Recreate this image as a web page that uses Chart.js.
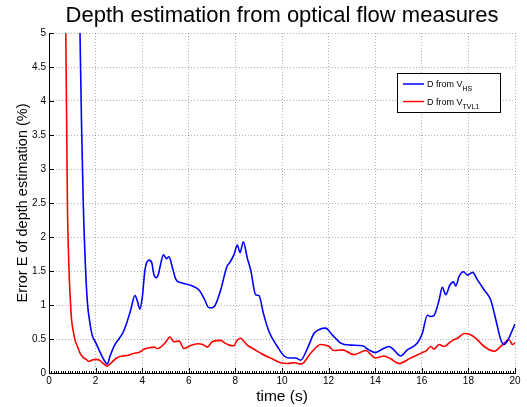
<!DOCTYPE html>
<html lang="en">
<head>
<meta charset="UTF-8">
<title>Depth estimation from optical flow measures</title>
<script src="https://cdn.jsdelivr.net/npm/chart.js"></script>
<style>
    html, body { margin: 0; padding: 0; background: #fff; }
    .caixa { position: relative; width: 527px; height: 407px; }
</style>
</head>
<body>
<div class="caixa"><canvas id="grafico"></canvas></div>
<script>
    // values (time in s, error in %)
    var tempo_hs = [1.25, 1.33, 1.40, 1.47, 1.56, 1.65, 1.75, 1.86, 2.0, 2.2, 2.38, 2.5, 2.62, 2.8, 3.0, 3.15, 3.3, 3.5, 3.69, 3.8, 3.9, 4.0, 4.12, 4.29, 4.41, 4.5, 4.61, 4.7, 4.79, 4.91, 5.04, 5.15, 5.29, 5.44, 5.65, 6.08, 6.44, 6.65, 6.87, 7.01, 7.15, 7.37, 7.63, 7.77, 7.94, 8.08, 8.2, 8.34, 8.51, 8.66, 8.87, 9.01, 9.2, 9.44, 9.8, 10.09, 10.35, 10.59, 10.8, 11.09, 11.37, 11.6, 11.87, 12.16, 12.52, 12.95, 13.45, 13.73, 14.01, 14.3, 14.59, 14.8, 15.09, 15.38, 15.81, 16.02, 16.24, 16.38, 16.53, 16.74, 16.88, 17.03, 17.2, 17.36, 17.46, 17.6, 17.79, 17.96, 18.18, 18.39, 18.68, 18.96, 19.18, 19.39, 19.53, 19.7, 20.0];
    var erro_hs = [6.5, 5.0, 3.6, 2.5, 1.6, 1.03, 0.75, 0.55, 0.45, 0.3, 0.18, 0.13, 0.25, 0.4, 0.5, 0.58, 0.7, 0.92, 1.14, 1.05, 0.94, 1.1, 1.52, 1.66, 1.62, 1.45, 1.40, 1.46, 1.6, 1.74, 1.68, 1.71, 1.56, 1.38, 1.33, 1.29, 1.22, 1.10, 0.96, 0.96, 1.01, 1.22, 1.56, 1.63, 1.74, 1.88, 1.77, 1.93, 1.69, 1.51, 1.15, 1.14, 0.88, 0.61, 0.39, 0.25, 0.22, 0.22, 0.19, 0.36, 0.58, 0.64, 0.66, 0.56, 0.44, 0.41, 0.40, 0.34, 0.30, 0.35, 0.39, 0.34, 0.25, 0.34, 0.44, 0.58, 0.85, 0.83, 0.85, 1.07, 1.26, 1.15, 1.29, 1.34, 1.28, 1.42, 1.49, 1.44, 1.48, 1.37, 1.22, 1.07, 0.78, 0.49, 0.42, 0.49, 0.72];

    var tempo_tvl = [0.6, 0.72, 0.79, 0.85, 0.92, 0.97, 1.05, 1.12, 1.22, 1.35, 1.5, 1.6, 1.7, 1.85, 2.0, 2.15, 2.3, 2.5, 2.7, 2.9, 3.15, 3.4, 3.65, 3.85, 4.08, 4.3, 4.51, 4.65, 4.79, 5.0, 5.19, 5.36, 5.58, 5.79, 6.05, 6.37, 6.6, 6.8, 7.0, 7.37, 7.55, 7.73, 7.94, 8.05, 8.23, 8.35, 8.51, 8.8, 9.09, 9.37, 9.51, 9.94, 10.25, 10.52, 10.83, 11.23, 11.66, 12.02, 12.23, 12.6, 13.09, 13.59, 14.01, 14.37, 14.66, 15.02, 15.52, 16.02, 16.2, 16.38, 16.53, 16.74, 16.95, 17.17, 17.32, 17.53, 17.82, 18.11, 18.32, 18.68, 19.11, 19.39, 19.75, 19.89, 20.0];
    var erro_tvl = [6.5, 5.0, 2.5, 1.6, 1.05, 0.78, 0.6, 0.48, 0.39, 0.28, 0.22, 0.2, 0.17, 0.19, 0.2, 0.19, 0.15, 0.10, 0.16, 0.22, 0.25, 0.26, 0.29, 0.3, 0.35, 0.37, 0.38, 0.36, 0.38, 0.45, 0.53, 0.46, 0.47, 0.36, 0.40, 0.43, 0.42, 0.38, 0.46, 0.48, 0.44, 0.41, 0.40, 0.47, 0.51, 0.47, 0.41, 0.35, 0.29, 0.24, 0.22, 0.15, 0.14, 0.15, 0.13, 0.29, 0.42, 0.39, 0.33, 0.34, 0.27, 0.33, 0.22, 0.25, 0.21, 0.14, 0.22, 0.30, 0.33, 0.39, 0.35, 0.42, 0.39, 0.44, 0.48, 0.51, 0.58, 0.56, 0.51, 0.39, 0.32, 0.39, 0.49, 0.42, 0.44];

    var titulo = 'Depth estimation from optical flow measures';
    var nome_series = ['D from V', 'D from V'];
    var sub_series = ['HS', 'TVL1'];
    var cor_series = ['#0000ff', '#ff0000'];
    var ticks_x = [0, 2, 4, 6, 8, 10, 12, 14, 16, 18, 20];
    var ticks_y = [0, 0.5, 1, 1.5, 2, 2.5, 3, 3.5, 4, 4.5, 5];

    function pontos(xs, ys) {
        return xs.map(function (x, i) { return { x: x, y: ys[i] }; });
    }

    var fonte = '"Liberation Sans", Arial, Helvetica, sans-serif';

    // ticks inside the axes, title over the plot area, legend with subscripts
    var extras = {
        id: 'extras',
        afterDraw: function (chart) {
            var ctx = chart.ctx, a = chart.chartArea;
            var sx = chart.scales.x, sy = chart.scales.y;
            ctx.save();
            ctx.strokeStyle = '#000';
            ctx.lineWidth = 1;
            ctx.beginPath();
            for (var k = 0; k <= 200; k++) {
                var px = Math.round(sx.getPixelForValue(k / 10)) + 0.5;
                var len = (k % 20 === 0) ? 5 : 2;
                ctx.moveTo(px, a.bottom);
                ctx.lineTo(px, a.bottom - len);
            }
            ticks_y.forEach(function (v) {
                var py = Math.round(sy.getPixelForValue(v)) + 0.5;
                ctx.moveTo(a.left, py);
                ctx.lineTo(a.left + 5, py);
            });
            ctx.stroke();

            ctx.fillStyle = '#000';
            ctx.font = '22px ' + fonte;
            ctx.textAlign = 'center';
            ctx.textBaseline = 'alphabetic';
            ctx.fillText(titulo, (a.left + a.right) / 2, 22);

            // legend box
            ctx.fillStyle = '#fff';
            ctx.fillRect(397.5, 73.5, 103, 39);
            ctx.strokeStyle = '#000';
            ctx.strokeRect(397.5, 73.5, 103, 39);
            ctx.textAlign = 'left';
            for (var i = 0; i < nome_series.length; i++) {
                var yl = 84 + i * 17.5;
                ctx.strokeStyle = cor_series[i];
                ctx.lineWidth = 1.5;
                ctx.beginPath();
                ctx.moveTo(403, yl);
                ctx.lineTo(424, yl);
                ctx.stroke();
                ctx.fillStyle = '#000';
                ctx.font = '9px ' + fonte;
                ctx.fillText(nome_series[i], 427, yl + 3);
                var w = ctx.measureText(nome_series[i]).width;
                ctx.font = '7px ' + fonte;
                ctx.fillText(sub_series[i], 427 + w, yl + 7);
            }
            ctx.restore();
        }
    };

    const chart = new Chart('grafico', {
        type: 'line',
        data: {
            datasets: [{
                label: nome_series[0] + sub_series[0],
                data: pontos(tempo_hs, erro_hs),
                borderColor: cor_series[0],
                borderWidth: 1.6,
                pointRadius: 0,
                cubicInterpolationMode: 'monotone'
            }, {
                label: nome_series[1] + sub_series[1],
                data: pontos(tempo_tvl, erro_tvl),
                borderColor: cor_series[1],
                borderWidth: 1.6,
                pointRadius: 0,
                cubicInterpolationMode: 'monotone'
            }]
        },
        options: {
            responsive: true,
            maintainAspectRatio: false,
            animation: false,
            layout: { padding: { top: 33, right: 12, left: 0, bottom: 0 } },
            plugins: {
                legend: { display: false },
                title: { display: false },
                tooltip: { enabled: false }
            },
            scales: {
                x: {
                    type: 'linear',
                    min: 0,
                    max: 20,
                    afterFit: function (s) { s.height = 34; },
                    afterBuildTicks: function (s) { s.ticks = ticks_x.map(function (v) { return { value: v }; }); },
                    ticks: { color: '#000', padding: 2, font: { size: 10, family: fonte }, maxRotation: 0,
                        callback: function (v) { return String(v); } },
                    grid: { color: 'rgba(0,0,0,0.3)', drawTicks: false },
                    border: { display: true, color: '#000', width: 1, dash: [1, 2] },
                    title: { display: true, text: 'time (s)', color: '#000', font: { size: 15.5, family: fonte }, padding: { top: 0, bottom: 1 } }
                },
                y: {
                    min: 0,
                    max: 5,
                    afterFit: function (s) { s.width = 49; },
                    afterBuildTicks: function (s) { s.ticks = ticks_y.map(function (v) { return { value: v }; }); },
                    ticks: { color: '#000', padding: 3, font: { size: 10, family: fonte },
                        callback: function (v) { return String(v); } },
                    grid: { color: 'rgba(0,0,0,0.3)', drawTicks: false },
                    border: { display: true, color: '#000', width: 1, dash: [1, 2] },
                    title: { display: true, text: 'Error E of depth estimation (%)', color: '#000', font: { size: 14.5, family: fonte }, padding: { top: 14, bottom: 0 } }
                }
            }
        },
        plugins: [extras]
    });
</script>
</body>
</html>
